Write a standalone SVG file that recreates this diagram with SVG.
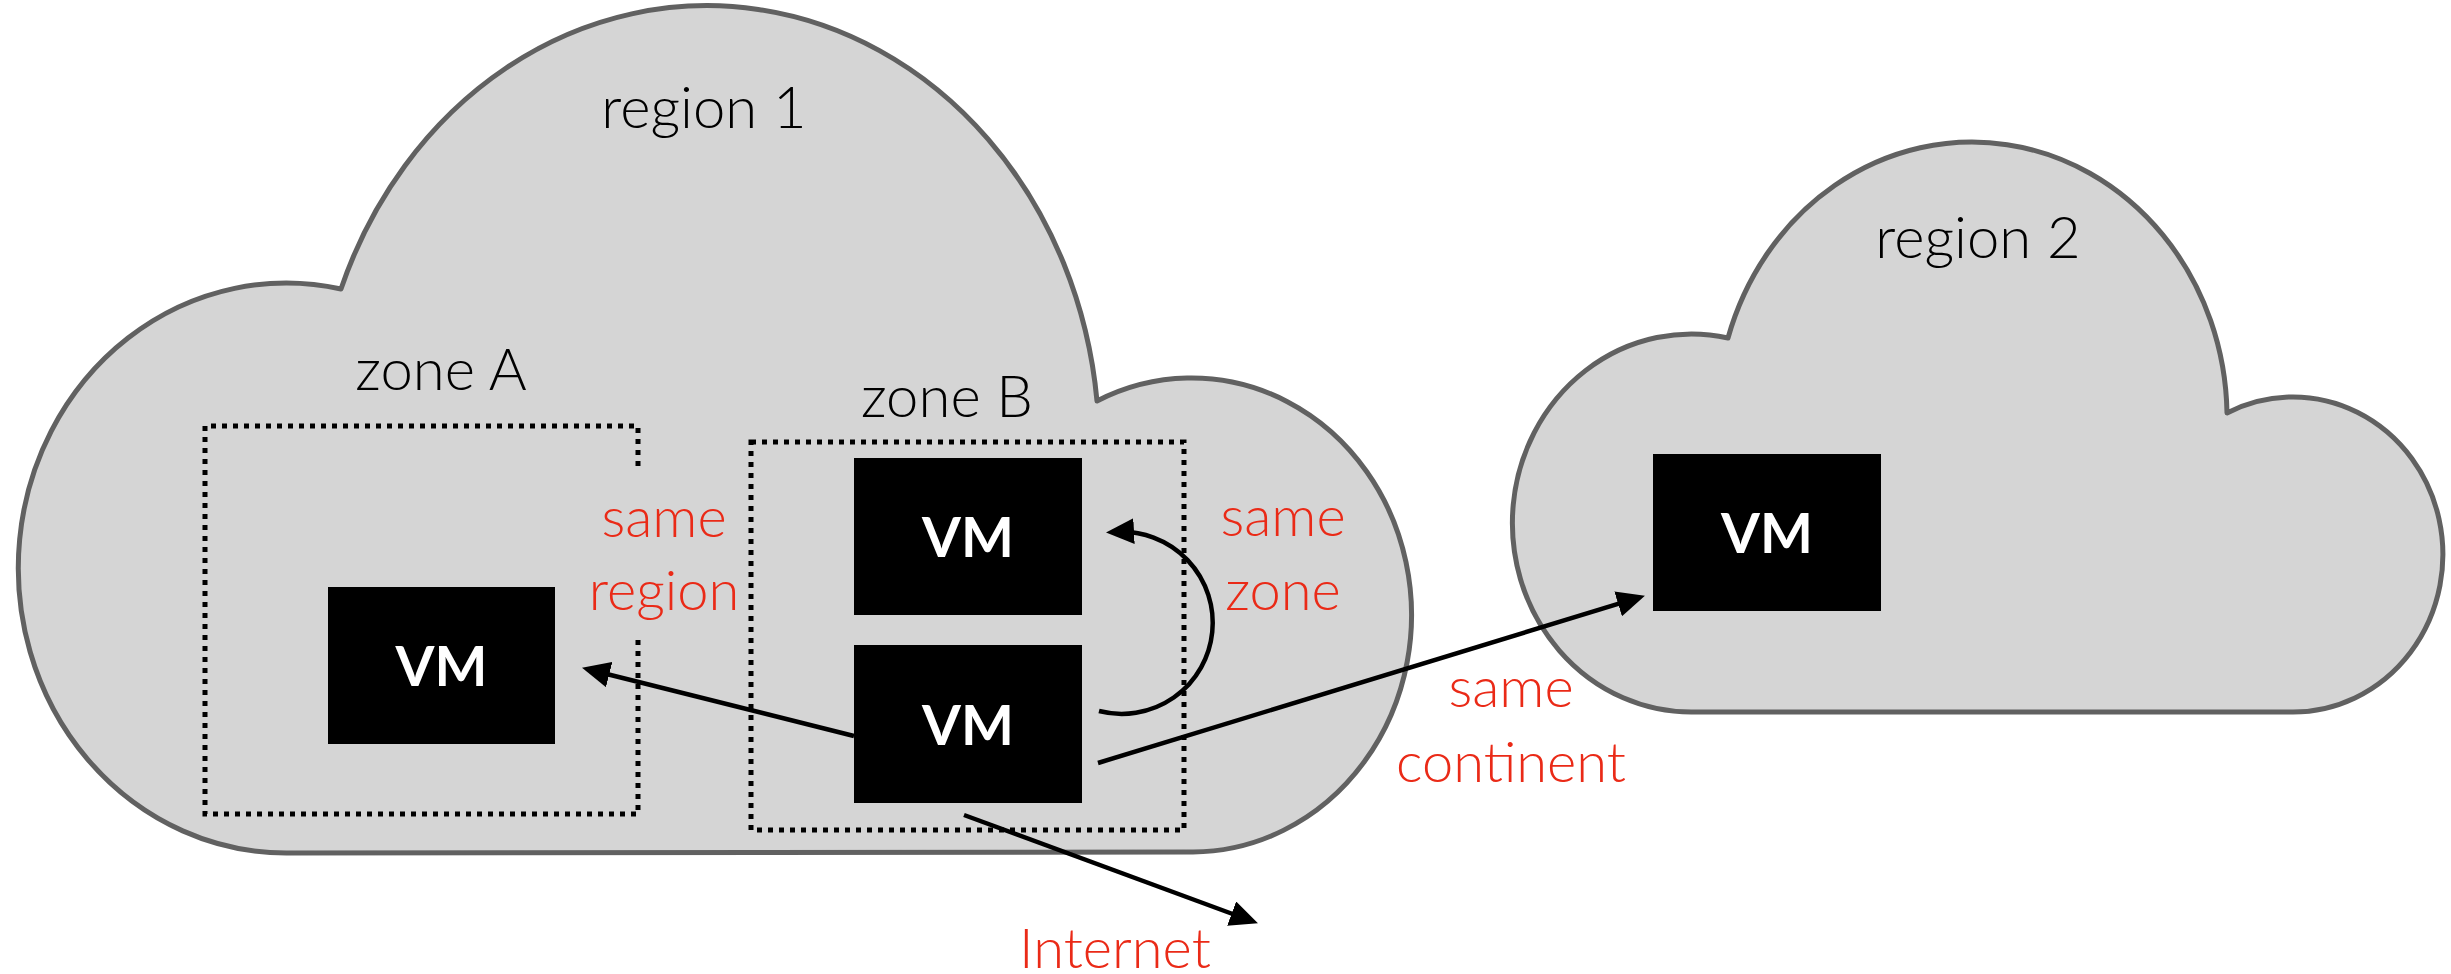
<svg xmlns="http://www.w3.org/2000/svg" width="2451" height="974" viewBox="0 0 2451 974">
<style>
.cloud{fill:#d5d5d5;stroke:#616161;stroke-width:5;stroke-linejoin:round}
.zone{fill:none;stroke:#000;stroke-width:5;stroke-dasharray:5 6}
.vm{fill:#000}
.vmt{fill:#fff;font-family:Lato,"Liberation Sans",sans-serif;font-weight:700;font-size:56px;text-anchor:middle}
.lbl{fill:#000;font-family:Lato,"Liberation Sans",sans-serif;font-weight:300;font-size:58px;text-anchor:middle}
.red{fill:#ea2a17;font-family:Lato,"Liberation Sans",sans-serif;font-weight:300;font-size:56px;text-anchor:middle}
.conn{fill:none;stroke:#000;stroke-width:4.5}
</style>
<defs>
<marker id="ah" viewBox="0 0 28 26" refX="17" refY="13" markerWidth="28" markerHeight="26" markerUnits="userSpaceOnUse" orient="auto">
<path d="M0,0 L28,13 L0,26 Z" fill="#000"/>
</marker>
</defs>
<rect width="2451" height="974" fill="#fff"/>
<g id="region1">
<path class="cloud" d="M287 853 A268 285 0 1 1 341 289 A392 441 0 0 1 1097 401 A220 237 0 1 1 1193 852 Z"/>
<text class="lbl" x="704" y="128">region 1</text>
</g>
<g id="region2">
<path class="cloud" d="M1693 712 A179 189 0 1 1 1728 338 A255 276 0 0 1 2227 413 A150 157.5 0 1 1 2293 712 Z"/>
<text class="lbl" x="1978" y="258">region 2</text>
</g>
<g id="zoneA">
<path class="zone" d="M638 466 L638 426 L205 426 L205 814 L638 814 L638 636"/>
<text class="lbl" x="441" y="390">zone A</text>
</g>
<g id="zoneB">
<rect class="zone" x="751" y="442" width="433" height="388"/>
<text class="lbl" x="947" y="417">zone B</text>
</g>
<g id="vmA">
<rect class="vm" x="328" y="587" width="227" height="157"/>
<text class="vmt" x="441.5" y="686">VM</text>
</g>
<g id="vmB1">
<rect class="vm" x="854" y="458" width="228" height="157"/>
<text class="vmt" x="968" y="557">VM</text>
</g>
<g id="vmB2">
<rect class="vm" x="854" y="645" width="228" height="158"/>
<text class="vmt" x="968" y="745">VM</text>
</g>
<g id="vmR2">
<rect class="vm" x="1653" y="454" width="228" height="157"/>
<text class="vmt" x="1767" y="553">VM</text>
</g>
<g id="connectors">
<path class="conn" d="M854 736 L592.7 670.5" marker-end="url(#ah)"/>
<path class="conn" d="M1099 711 A91 91 0 1 0 1117 532" marker-end="url(#ah)"/>
<path class="conn" d="M1098 763 L1634.4 598.9" marker-end="url(#ah)"/>
<path class="conn" d="M964 815 L1247.6 919.5" marker-end="url(#ah)"/>
</g>
<g id="labels">
<text class="red" x="664" y="537">same</text>
<text class="red" x="664" y="610">region</text>
<text class="red" x="1283" y="536">same</text>
<text class="red" x="1283" y="610">zone</text>
<text class="red" x="1511" y="707">same</text>
<text class="red" x="1511" y="782">continent</text>
<text class="red" x="1115" y="968">Internet</text>
</g>
</svg>
